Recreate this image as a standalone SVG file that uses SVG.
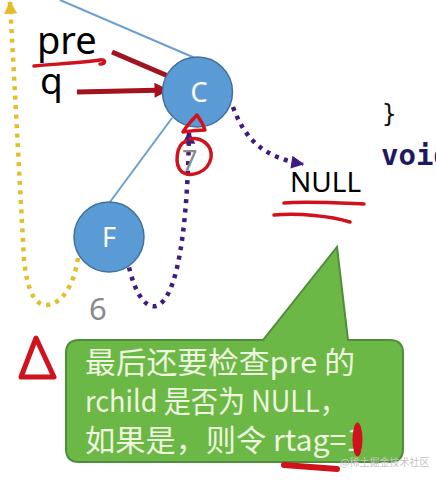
<svg xmlns="http://www.w3.org/2000/svg" width="436" height="480" viewBox="0 0 436 480">
<style>
.node{fill:#5b9bd5;stroke:#41719c;stroke-width:1.5}
.nlabel{font-family:"Noto Sans","Liberation Sans",sans-serif;font-size:27px;fill:#ffffff;text-anchor:middle}
.edge{stroke:#6a9fd0;stroke-width:2;fill:none}
.ptr{stroke:#a3121f;stroke-width:5;fill:none}
.purple{stroke:#3f1a80;stroke-width:4.5;fill:none;stroke-dasharray:4 5.5}
.yellow{stroke:#e2bf2a;stroke-width:4.5;fill:none;stroke-dasharray:4 5.5}
.ink{stroke:#d0121c;stroke-width:3.5;fill:none;stroke-linecap:round;stroke-linejoin:round}
.lbl{font-family:"Noto Sans","Liberation Sans",sans-serif;fill:#000}
.gray{font-family:"Noto Sans","Liberation Sans",sans-serif;fill:#8a8a8a}
.call{font-family:"Noto Sans CJK SC","Noto Sans",sans-serif;font-size:30px;fill:#eef6df}
.code{font-family:"DejaVu Sans Mono","Liberation Mono",monospace}
</style>
<defs>
<marker id="aRed" viewBox="0 0 10 10" refX="9" refY="5" markerUnits="userSpaceOnUse" markerWidth="17" markerHeight="15" orient="auto"><path d="M0,0 L10,5 L0,10 Z" fill="#a3121f"/></marker>
<marker id="aPur" viewBox="0 0 10 10" refX="9" refY="5" markerUnits="userSpaceOnUse" markerWidth="14" markerHeight="13" orient="auto"><path d="M0,0 L10,5 L0,10 Z" fill="#3f1a80"/></marker>
<marker id="aYel" viewBox="0 0 10 10" refX="9" refY="5" markerUnits="userSpaceOnUse" markerWidth="14" markerHeight="13" orient="auto"><path d="M0,0 L10,5 L0,10 Z" fill="#e2bf2a"/></marker>
</defs>
<rect width="436" height="480" fill="#ffffff"/>

<g id="connectors">
<line class="edge" x1="60" y1="0" x2="195" y2="58"/>
<line class="edge" x1="172" y1="118" x2="110" y2="202"/>
<path class="yellow" d="M78 258 C74 285 62 304 47 305 C32 305 27 285 24 260 L10 2" marker-end="url(#aYel)"/>
<path class="purple" d="M127 258 C135 300 150 312 160 304 C182 288 188 200 189 132" marker-end="url(#aPur)"/>
<path class="purple" d="M233 107 C245 140 265 158 303 164" marker-end="url(#aPur)"/>
<line class="ptr" x1="112" y1="52" x2="182" y2="82" marker-end="url(#aRed)"/>
<line class="ptr" x1="77" y1="92" x2="168" y2="90" marker-end="url(#aRed)"/>
</g>

<g id="node-C">
<circle class="node" cx="197.5" cy="92" r="35"/>
<text class="nlabel" x="199" y="102">C</text>
</g>
<g id="node-F">
<circle class="node" cx="109" cy="237" r="35"/>
<text class="nlabel" x="109" y="247">F</text>
</g>

<g id="labels">
<text class="lbl" x="37" y="54" font-size="38">pre</text>
<text class="lbl" x="40" y="94" font-size="37">q</text>
<text class="lbl" x="290" y="192" font-size="28">NULL</text>
<text class="gray" x="89" y="320" font-size="31">6</text>
<text class="gray" x="182" y="170" font-size="27">7</text>
<text class="code" x="382" y="122" font-size="24" fill="#111">}</text>
<text class="code" x="381" y="165" font-size="29" font-weight="bold" fill="#1b1b5e">void</text>
</g>

<g id="callout">
<path d="M80 340 L263 340 L337 247 L348 340 L390 340 Q403 340 403 353 L403 449 Q403 462 390 462 L79 462 Q66 462 66 449 L66 353 Q66 340 79 340 Z" fill="#6cb846" stroke="#4e8e3a" stroke-width="2"/>
<text class="call" x="85" y="373" textLength="270" lengthAdjust="spacingAndGlyphs">最后还要检查pre 的</text>
<text class="call" x="85" y="412" textLength="262" lengthAdjust="spacingAndGlyphs">rchild 是否为 NULL，</text>
<text class="call" x="85" y="451" textLength="278" lengthAdjust="spacingAndGlyphs">如果是，则令 rtag=1</text>
</g>

<g id="annotations">
<path class="ink" d="M34 66 C55 64 80 63 100 60 C106 59 106 64 100 64"/>
<path class="ink" d="M197 115 C192 120 186 127 183 132 C190 131 199 130 205 130 C203 124 200 119 197 115 Z"/>
<path class="ink" d="M186 141 C176 145 174 165 182 172 C192 178 208 172 211 158 C213 144 200 137 190 139"/>
<path class="ink" d="M284 203 C305 201 340 203 364 204"/>
<path class="ink" d="M274 215 C300 213 330 216 350 222"/>
<path d="M21 377 L36 338 L54 377 Z" fill="none" stroke="#d0121c" stroke-width="5" stroke-linejoin="round"/>
<ellipse cx="357.5" cy="439.5" rx="5" ry="17" fill="#d0121c"/>
<path d="M284 465 L337 469" stroke="#d0121c" stroke-width="6" stroke-linecap="round" fill="none"/>
</g>

<text x="340" y="466" font-family="Noto Sans CJK SC,sans-serif" font-size="10" fill="#c4c4c4">@稀土掘金技术社区</text>
</svg>
